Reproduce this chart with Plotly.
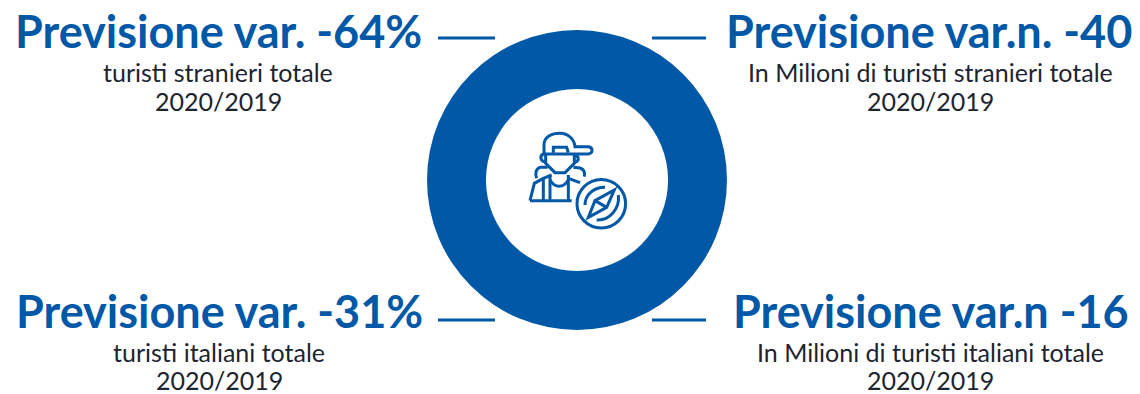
import plotly.graph_objects as go

BLUE = "#0058A6"
TEXT = "#1c2530"
W, H = 1140, 394

ring_values = [100]
headlines = ["Previsione var. -64%", "Previsione var.n. -40", "Previsione var. -31%", "Previsione var.n -16"]
subtitles = ["turisti stranieri totale", "In Milioni di turisti stranieri totale",
             "turisti italiani totale", "In Milioni di turisti italiani totale"]
period = "2020/2019"
head_x = [218, 929, 219, 931]
head_y = [31, 31, 311, 311]
sub_x = [218, 930, 219, 930]
sub_y = [72, 72, 352, 352]
per_y = [101, 101, 379.5, 379.5]
leader_x = [(438, 495), (652, 706), (438, 495), (652, 706)]
leader_y = [38, 38, 320, 320]

fig = go.Figure()

# Solid ring around the icon
fig.add_trace(go.Pie(
    values=ring_values, hole=0.607, sort=False, textinfo="none", hoverinfo="skip",
    marker=dict(colors=[BLUE], line=dict(width=0)), showlegend=False,
    domain=dict(x=[427 / W, 727 / W], y=[(H - 330) / H, (H - 30) / H]),
))


def icon(d):
    """Shift a path written on the icon's own grid (3 units per pixel) into place."""
    out = []
    for tok in d.split():
        if "," in tok:
            a, b = tok.split(",")
            out.append(f"{525 + float(a) / 3:.2f},{130 + float(b) / 3:.2f}")
        else:
            out.append(tok)
    return " ".join(out)


icon_paths = [
    # cap
    "M 57,72 L 57,45 C 57,20 80,10 105,10 C 130,10 148,28 150,50 L 190,50 C 205,52 205,70 190,72 L 57,72",
    "M 85,68 L 85,52 L 125,52 L 130,68",
    # face and ears
    "M 62,72 L 62,100 L 90,128 L 120,128 L 148,100 L 148,72",
    "M 57,72 C 44,74 44,93 60,95",
    "M 150,75 C 163,80 163,93 150,97",
    # shoulders
    "M 68,112 L 45,112 C 32,116 30,132 35,145",
    "M 145,112 L 165,114 C 178,118 180,130 178,140",
    # torso and straps
    "M 15,212 L 140,212",
    "M 15,212 L 28,160 L 55,145 L 80,135",
    "M 55,145 L 55,212",
    "M 75,140 L 75,212",
    "M 130,135 L 130,212",
    "M 75,150 C 90,175 115,175 130,150",
    "M 130,145 L 165,158",
    # compass needle and inner ring
    "M 268,180 L 245,232 L 190,262 L 210,212 Z",
    "M 210,212 L 245,232",
    "M 180,225 C 180,195 205,172 240,172",
    "M 280,195 C 285,235 255,272 215,270",
]
shapes = [dict(type="path", path=icon(p), xref="x", yref="y",
               line=dict(color=BLUE, width=3), layer="above") for p in icon_paths]
# compass rim
shapes.append(dict(type="circle", xref="x", yref="y", x0=577, x1=625.6, y0=179.5, y1=228,
                   line=dict(color=BLUE, width=3), fillcolor="rgba(0,0,0,0)"))

# Leader lines beside each headline
for (x0, x1), y in zip(leader_x, leader_y):
    shapes.append(dict(type="line", xref="x", yref="y", x0=x0, x1=x1, y0=y, y1=y,
                       line=dict(color=BLUE, width=3)))

annotations = []
for i in range(4):
    annotations.append(dict(x=head_x[i], y=head_y[i], text=f"<b>{headlines[i]}</b>", showarrow=False,
                            xref="x", yref="y", xanchor="center", yanchor="middle",
                            font=dict(family="Lato", size=45, color=BLUE)))
    annotations.append(dict(x=sub_x[i], y=sub_y[i], text=subtitles[i], showarrow=False,
                            xref="x", yref="y", xanchor="center", yanchor="middle",
                            font=dict(family="Lato", size=25, color=TEXT)))
    annotations.append(dict(x=sub_x[i], y=per_y[i], text=period, showarrow=False,
                            xref="x", yref="y", xanchor="center", yanchor="middle",
                            font=dict(family="Lato", size=25, color=TEXT)))

fig.update_layout(
    width=W, height=H, margin=dict(l=0, r=0, t=0, b=0),
    paper_bgcolor="white", plot_bgcolor="rgba(0,0,0,0)",
    xaxis=dict(range=[0, W], visible=False, fixedrange=True),
    yaxis=dict(range=[H, 0], visible=False, fixedrange=True),
    shapes=shapes, annotations=annotations, showlegend=False,
)
fig.write_html("out.html")
